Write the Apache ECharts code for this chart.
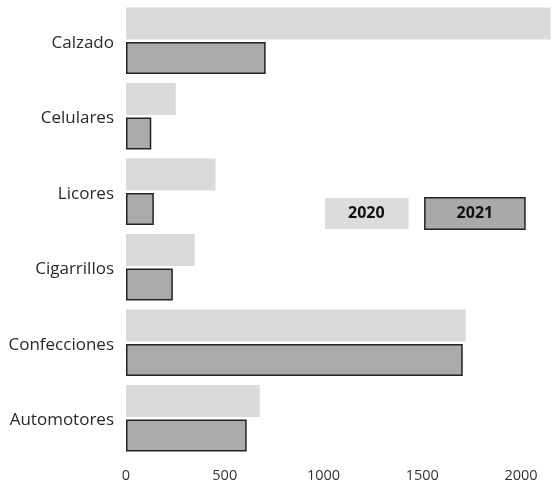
<!doctype html>
<html>
<head>
<meta charset="utf-8">
<script src="https://cdn.jsdelivr.net/npm/echarts@6/dist/echarts.min.js"></script>
<style>
  html, body { margin: 0; padding: 0; background: #fff; }
  #chart { width: 553px; height: 486px; }
</style>
</head>
<body>
<div id="chart"></div>
<script>
var categories = ['Calzado', 'Celulares', 'Licores', 'Cigarrillos', 'Confecciones', 'Automotores'];
var values2020 = [2150, 252, 453, 348, 1720, 677];
var values2021 = [707, 128, 141, 237, 1705, 611];
var xTicks = [0, 500, 1000, 1500, 2000];

var chart = echarts.init(document.getElementById('chart'));
var font = '"Open Sans", sans-serif';

chart.setOption({
  animation: false,
  grid: { left: 126, right: 32, top: 3, bottom: 30 },
  legend: {
    left: 315, top: 192,
    icon: 'none',
    itemGap: 12,
    itemWidth: 0,
    selectedMode: false,
    data: [
      { name: '2020', textStyle: { backgroundColor: '#dcdcdc', padding: [8, 24, 7, 23] } },
      { name: '2021', textStyle: { backgroundColor: '#a9a9a9', borderColor: '#222', borderWidth: 1.5, padding: [7, 31, 7, 31] } }
    ],
    textStyle: { fontFamily: font, fontWeight: 'bold', fontSize: 16, color: '#111' }
  },
  xAxis: {
    type: 'value', min: 0, max: 2000, interval: 500,
    axisLine: { show: false }, axisTick: { show: false }, splitLine: { show: false },
    axisLabel: { fontFamily: font, fontSize: 14.5, color: '#333', margin: 12,
      formatter: function (v) { return xTicks.indexOf(v) >= 0 ? String(v) : ''; } }
  },
  yAxis: {
    type: 'category', data: categories, inverse: true,
    axisLine: { show: false }, axisTick: { show: false },
    axisLabel: { color: '#333', margin: 12,
      formatter: function (v) { return '{a|' + v + '}'; },
      rich: { a: { fontFamily: font, fontSize: 17, color: '#2a2a2a', padding: [4, 0, 0, 0] } } }
  },
  series: [
    { name: '2020', type: 'bar', data: values2020, clip: false,
      barCategoryGap: '12%', barGap: '8%',
      itemStyle: { color: '#dadada' } },
    { name: '2021', type: 'bar', data: values2021, clip: false,
      itemStyle: { color: '#aaaaaa', borderColor: '#222', borderWidth: 1.5 } }
  ]
});
</script>
</body>
</html>
